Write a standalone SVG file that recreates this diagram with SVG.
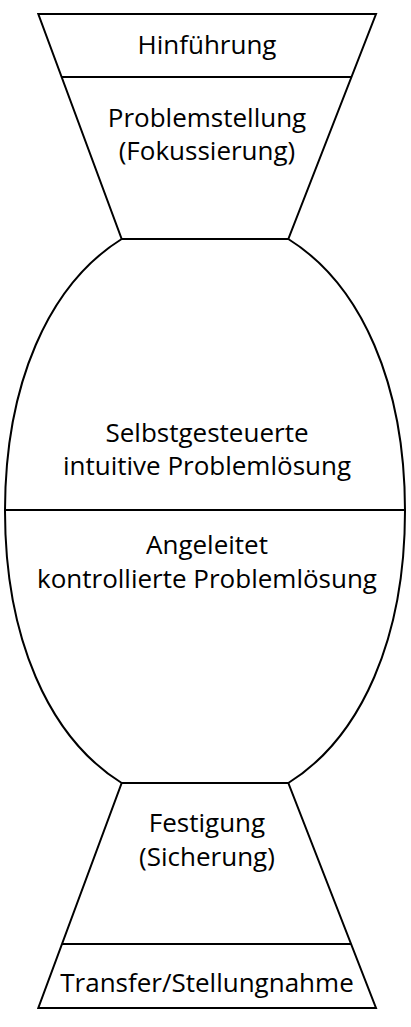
<svg xmlns="http://www.w3.org/2000/svg" width="411" height="1027" viewBox="0 0 411 1027">
<style>
.s{fill:none;stroke:#000;stroke-width:2;stroke-linejoin:miter}
.t{font-family:"Open Sans","Liberation Sans",sans-serif;font-size:26px;fill:#000;text-anchor:middle}
</style>
<rect width="411" height="1027" fill="#fff"/>
<g id="top-funnel">
<polygon class="s" points="38.3,14 376,14 288.3,239 121.7,239"/>
<line class="s" x1="61.7" y1="77" x2="351.4" y2="77"/>
<text class="t" x="207" y="54">Hinführung</text>
<text class="t" x="207" y="127">Problemstellung</text>
<text class="t" x="207" y="160">(Fokussierung)</text>
</g>
<g id="ellipse">
<path class="s" d="M121.7,239 L288.3,239 C362,285 405,385 405,511 C405,637 362,737 288.3,783 L121.7,783 C48,737 5,637 5,511 C5,385 48,285 121.7,239 Z"/>
<line class="s" x1="5" y1="510" x2="405" y2="510"/>
<text class="t" x="207" y="442">Selbstgesteuerte</text>
<text class="t" x="207" y="475">intuitive Problemlösung</text>
<text class="t" x="207" y="554">Angeleitet</text>
<text class="t" x="207" y="588">kontrollierte Problemlösung</text>
</g>
<g id="bottom-funnel">
<polygon class="s" points="121.7,783 288.3,783 376,1008 38.3,1008"/>
<line class="s" x1="62" y1="944" x2="351" y2="944"/>
<text class="t" x="207" y="832">Festigung</text>
<text class="t" x="207" y="866">(Sicherung)</text>
<text class="t" x="207" y="992">Transfer/Stellungnahme</text>
</g>
<g id="connectors"/>
</svg>
